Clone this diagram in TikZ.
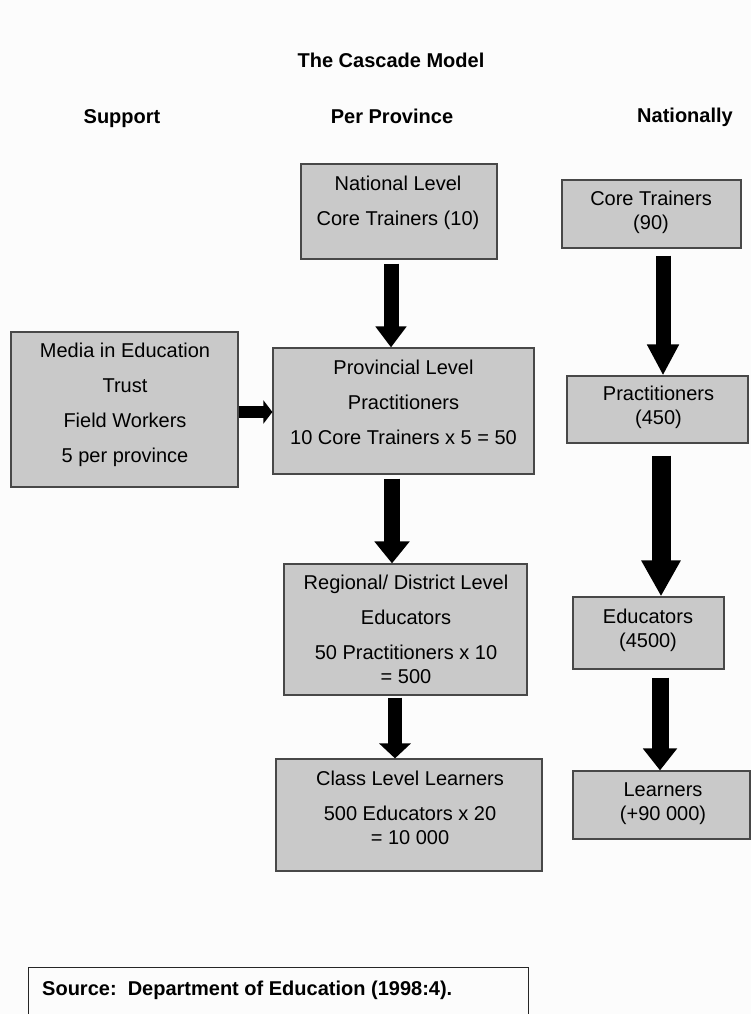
\documentclass[tikz,border=0pt]{standalone}
\usepackage{fontspec}
\setmainfont{Liberation Sans}
\usetikzlibrary{arrows.meta}
\definecolor{boxfill}{RGB}{201,201,201}
\definecolor{boxline}{RGB}{72,72,72}
\definecolor{paper}{RGB}{252,252,252}
% centred lines; the first line carries the baseline
\newcommand\boxlines[1]{\vtop{\baselineskip=24pt\lineskiplimit=-50pt\lineskip=0pt\halign{\hfil##\hfil\cr#1\crcr}}}
\newcommand\wide{\noalign{\vskip11pt}}
\tikzset{
  box/.style={draw=boxline, fill=boxfill, line width=1.2pt, inner sep=0pt},
  txt/.style={anchor=base, inner sep=0pt},
  head/.style={anchor=base, inner sep=0pt, font=\fontsize{20}{24}\selectfont\bfseries},
  flow/.style n args={3}{draw=black, line width=#1, -{Triangle[width=#2, length=#3]}}
}
\begin{document}
\begin{tikzpicture}[x=1pt, y=-1pt, font=\fontsize{20}{24}\selectfont]
\useasboundingbox (0,0) rectangle (751,1014);
\clip (0,0) rectangle (751,1014);
\fill[paper] (0,0) rectangle (751,1014);

% headings
\node[head] (title) at (391,68) {The Cascade Model};
\node[head] (hsup) at (122,124) {Support};
\node[head] (hprov) at (392,124) {Per Province};
\node[head] (hnat) at (685,123) {Nationally};

% per province column
\node[box, minimum width=196pt, minimum height=95pt] (nat) at (399,211.5) {};
\node[txt] (natT) at (398,190) {\boxlines{National Level\cr\wide Core Trainers (10)}};

\node[box, minimum width=261pt, minimum height=126pt] (prov) at (403.5,411) {};
\node[txt] (provT) at (403.5,374) {\boxlines{Provincial Level\cr\wide Practitioners\cr\wide 10 Core Trainers x 5 = 50}};

\node[box, minimum width=243pt, minimum height=131pt] (reg) at (405.5,629.5) {};
\node[txt] (regT) at (406,589.5) {\boxlines{Regional/ District Level\cr\wide Educators\cr\wide 50 Practitioners x 10\cr = 500}};

\node[box, minimum width=266pt, minimum height=112pt] (cls) at (409,815) {};
\node[txt] (clsT) at (410,785) {\boxlines{Class Level Learners\cr\wide 500 Educators x 20\cr = 10 000}};

% support column
\node[box, minimum width=227pt, minimum height=155pt] (media) at (124.5,409.5) {};
\node[txt] (mediaT) at (125,357) {\boxlines{Media in Education\cr\wide Trust\cr\wide Field Workers\cr\wide 5 per province}};

% national column
\node[box, minimum width=179pt, minimum height=68pt] (core) at (651.5,214) {};
\node[txt] (coreT) at (651,205) {\boxlines{Core Trainers\cr (90)}};

\node[box, minimum width=181pt, minimum height=67pt] (prac) at (657.5,409.5) {};
\node[txt] (pracT) at (658.5,400.5) {\boxlines{Practitioners\cr (450)}};

\node[box, minimum width=151pt, minimum height=72pt] (edu) at (648.5,633) {};
\node[txt] (eduT) at (648,623.5) {\boxlines{Educators\cr (4500)}};

\node[box, minimum width=177pt, minimum height=68pt] (lrn) at (661.5,805) {};
\node[txt] (lrnT) at (663,796.5) {\boxlines{Learners\cr (+90 000)}};

% block arrows
\path (nat.south -| 391,0) ++(0,4) coordinate (a1);
\draw[flow={15pt}{30pt}{21pt}] (a1) -- (prov.north -| 391,0);
\path (prov.south -| 392,0) ++(0,4) coordinate (a2);
\draw[flow={16.5pt}{34pt}{22pt}] (a2) -- (reg.north -| 392,0);
\path (reg.south -| 395,0) ++(0,2) coordinate (a3);
\draw[flow={13.5pt}{31pt}{15pt}] (a3) -- (cls.north -| 395,0);
\draw[flow={12.5pt}{23pt}{9pt}] (media.east |- 0,412) -- (prov.west |- 0,412);

\path (core.south -| 663,0) ++(0,7) coordinate (b1);
\draw[flow={15pt}{30pt}{31pt}] (b1) -- (prac.north -| 663,0);
\path (prac.south -| 661,0) ++(0,12) coordinate (b2);
\draw[flow={19pt}{37pt}{36pt}] (b2) -- (edu.north -| 661,0);
\path (edu.south -| 660,0) ++(0,8) coordinate (b3);
\draw[flow={17pt}{33pt}{22pt}] (b3) -- (lrn.north -| 660,0);

% source note
\node[draw=black!85, line width=1.2pt, inner sep=0pt, anchor=north west,
      minimum width=500pt, minimum height=80pt] (src) at (28,967) {};
\node[anchor=base west, inner sep=0pt, font=\fontsize{20}{24}\selectfont\bfseries]
  (srcT) at (42,995) {Source:\ \ Department of Education (1998:4).};
\end{tikzpicture}
\end{document}
